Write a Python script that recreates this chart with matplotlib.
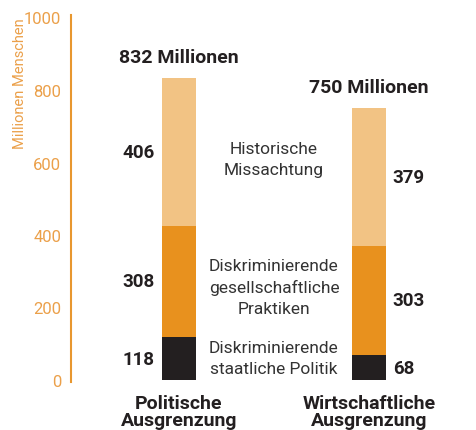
import matplotlib
matplotlib.use("Agg")
import matplotlib.pyplot as plt

categories = ["Politische\nAusgrenzung", "Wirtschaftliche\nAusgrenzung"]
staatlich = [118, 68]
gesellschaftlich = [308, 303]
historisch = [406, 379]
totals = ["832 Millionen", "750 Millionen"]
segment_names = ["Diskriminierende\nstaatliche Politik",
                 "Diskriminierende\ngesellschaftliche\nPraktiken",
                 "Historische\nMissachtung"]
yticks = [0, 200, 400, 600, 800, 1000]

c_dark = "#231f20"
c_mid = "#e8911e"
c_light = "#f2c384"
c_axis = "#e8972f"
c_text = "#231f20"

plt.rcParams['font.family'] = ['Roboto', 'DejaVu Sans']

fig = plt.figure(figsize=(4.77, 4.31), dpi=100)
ax = fig.add_axes([71 / 477, (431 - 381) / 431, (477 - 71) / 477, (381 - 18.5) / 431])

x = [0, 1]
w = 0.179
bottom2 = [a + b for a, b in zip(staatlich, gesellschaftlich)]
ax.bar(x, staatlich, w, color=c_dark)
ax.bar(x, gesellschaftlich, w, bottom=staatlich, color=c_mid)
ax.bar(x, historisch, w, bottom=bottom2, color=c_light)

ax.set_xlim(-0.568, 1.568)
ax.set_ylim(0, 1000)

# value labels at segment centres: left of bar 1, right of bar 2
for i in range(2):
    mids = [staatlich[i] / 2,
            staatlich[i] + gesellschaftlich[i] / 2,
            bottom2[i] + historisch[i] / 2]
    vals = [staatlich[i], gesellschaftlich[i], historisch[i]]
    for m, v in zip(mids, vals):
        if i == 0:
            ax.text(x[i] - w / 2 - 0.04, m, str(v), ha='right', va='center',
                    fontsize=13.5, fontweight='bold', color=c_text)
        else:
            ax.text(x[i] + w / 2 + 0.035, m, str(v), ha='left', va='center',
                    fontsize=13.5, fontweight='bold', color=c_text)
    total = staatlich[i] + gesellschaftlich[i] + historisch[i]
    ax.annotate(totals[i], (x[i], total), xytext=(0, 9), textcoords='offset points',
                ha='center', va='bottom', fontsize=14, fontweight='bold', color=c_text)

# segment names in the middle
name_y = [61, 257, 610]
for ny, name in zip(name_y, segment_names):
    ax.text(0.5, ny, name, ha='center', va='center', fontsize=12.5,
            color='#333333', linespacing=1.5)

ax.set_xticks(x, categories)
for lbl in ax.get_xticklabels():
    lbl.set_fontweight('bold')
    lbl.set_fontsize(14)
    lbl.set_color(c_text)
    lbl.set_linespacing(0.95)
ax.tick_params(axis='x', length=0, pad=10)

ax.set_yticks(yticks)
ax.tick_params(axis='y', length=0, pad=7, labelcolor="#eba04a", labelsize=12)
ax.set_ylabel("Millionen Menschen", color="#eba04a", fontsize=10.5, va='center')
ax.yaxis.set_label_coords(-0.125, 0.82)

for s in ["top", "right", "bottom"]:
    ax.spines[s].set_visible(False)
ax.spines["left"].set_color(c_axis)
ax.spines["left"].set_linewidth(1.5)
ax.spines["left"].set_bounds(-5, 1007)

fig.savefig("out.png", dpi=100)
